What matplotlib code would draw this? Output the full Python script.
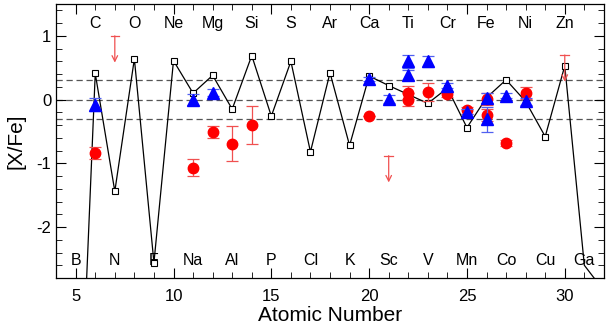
import numpy as np
import matplotlib.pyplot as plt
from matplotlib.ticker import MultipleLocator

plt.rcParams['font.family'] = ['Liberation Sans', 'DejaVu Sans']

# model abundance pattern
model_z = [5, 6, 7, 8, 9, 10, 11, 12, 13, 14, 15, 16, 17, 18, 19, 20, 21,
           22, 23, 24, 25, 26, 27, 28, 29, 30, 31, 32]
model_xfe = [-6.9, 0.41, -1.44, 0.64, -2.56, 0.61, 0.10, 0.38, -0.15, 0.69,
             -0.26, 0.60, -0.82, 0.42, -0.72, 0.37, 0.22, 0.08, -0.06, 0.18,
             -0.44, 0.03, 0.31, -0.03, -0.58, 0.53, -2.6, -3.0]

# red measurements
red_z = [6, 11, 12, 13, 14, 20, 22, 22, 23, 24, 25, 26, 26, 27, 28]
red_xfe = [-0.84, -1.07, -0.51, -0.69, -0.40, -0.26, 0.11, 0.0, 0.12, 0.08,
           -0.17, 0.01, -0.24, -0.68, 0.10]
red_err = [0.09, 0.13, 0.09, 0.27, 0.30, 0.0, 0.1, 0.1, 0.14, 0.04,
           0.05, 0.09, 0.1, 0.05, 0.09]

# red upper limits
lim_z = [7, 21, 30]
lim_xfe = [1.0, -0.88, 0.70]
lim_len = 0.42

# blue measurements
blue_z = [6, 11, 12, 20, 21, 22, 22, 23, 24, 25, 26, 26, 27, 28]
blue_xfe = [-0.08, 0.0, 0.11, 0.32, 0.01, 0.60, 0.38, 0.60, 0.22, -0.19,
            0.02, -0.31, 0.06, -0.03]
blue_err = [0.1, 0.08, 0.05, 0.03, 0.06, 0.1, 0.08, 0.09, 0.04, 0.04,
            0.08, 0.2, 0.04, 0.05]

top_elems = ['C', 'O', 'Ne', 'Mg', 'Si', 'S', 'Ar', 'Ca', 'Ti', 'Cr', 'Fe', 'Ni', 'Zn']
top_z = [6, 8, 10, 12, 14, 16, 18, 20, 22, 24, 26, 28, 30]
bot_elems = ['B', 'N', 'F', 'Na', 'Al', 'P', 'Cl', 'K', 'Sc', 'V', 'Mn', 'Co', 'Cu', 'Ga']
bot_z = [5, 7, 9, 11, 13, 15, 17, 19, 21, 23, 25, 27, 29, 31]

fig = plt.figure(figsize=(6.1, 3.31), dpi=100)
ax = fig.add_axes([0.092, 0.160, 0.898, 0.828])

for yv in (0.3, 0.0, -0.3):
    ax.axhline(yv, color='#555555', ls=(0, (5, 3)), lw=0.9, zorder=1)

# squares only on the Z=6..30 points
ax.plot(model_z, model_xfe, color='black', lw=0.9, marker='s', ms=4.5,
        mfc='white', mec='black', mew=0.8, zorder=2,
        markevery=list(range(1, 26)))

ax.errorbar(red_z, red_xfe, yerr=red_err, fmt='o', color='red', ms=7.5,
            ecolor='#f05050', elinewidth=0.9, capsize=4, capthick=0.9, zorder=4)

for z, v in zip(lim_z, lim_xfe):
    ax.plot([z - 0.22, z + 0.22], [v, v], color='#f05050', lw=0.9, zorder=4)
    ax.annotate('', xy=(z, v - lim_len), xytext=(z, v),
                arrowprops=dict(arrowstyle='->', color='#f05050', lw=0.9,
                                shrinkA=0, shrinkB=0), zorder=4)

ax.errorbar(blue_z, blue_xfe, yerr=blue_err, fmt='^', color='blue', ms=8,
            ecolor='#5060f0', elinewidth=0.9, capsize=4, capthick=0.9, zorder=5)

for e, z in zip(top_elems, top_z):
    ax.text(z, 1.19, e, ha='center', va='center', fontsize=11.5, zorder=6)
for e, z in zip(bot_elems, bot_z):
    ax.text(z, -2.53, e, ha='center', va='center', fontsize=11.5, zorder=6)

ax.set_xlim(4, 32)
ax.set_ylim(-2.8, 1.5)
ax.xaxis.set_major_locator(MultipleLocator(5))
ax.xaxis.set_minor_locator(MultipleLocator(1))
ax.yaxis.set_major_locator(MultipleLocator(1))
ax.yaxis.set_minor_locator(MultipleLocator(0.2))
ax.tick_params(which='both', direction='in', top=True, right=True, labelsize=12)
ax.tick_params(which='major', length=7)
ax.tick_params(which='minor', length=4)
ax.tick_params(axis='x', pad=8)
ax.set_yticks([-2, -1, 0, 1])
ax.set_yticklabels(['-2', '-1', '0', '1'])
for s in ax.spines.values():
    s.set_linewidth(0.9)

ax.set_xlabel('Atomic Number', fontsize=15, labelpad=1)
ax.set_ylabel('[X/Fe]', fontsize=15, labelpad=8)

fig.savefig('out.png', dpi=100)
